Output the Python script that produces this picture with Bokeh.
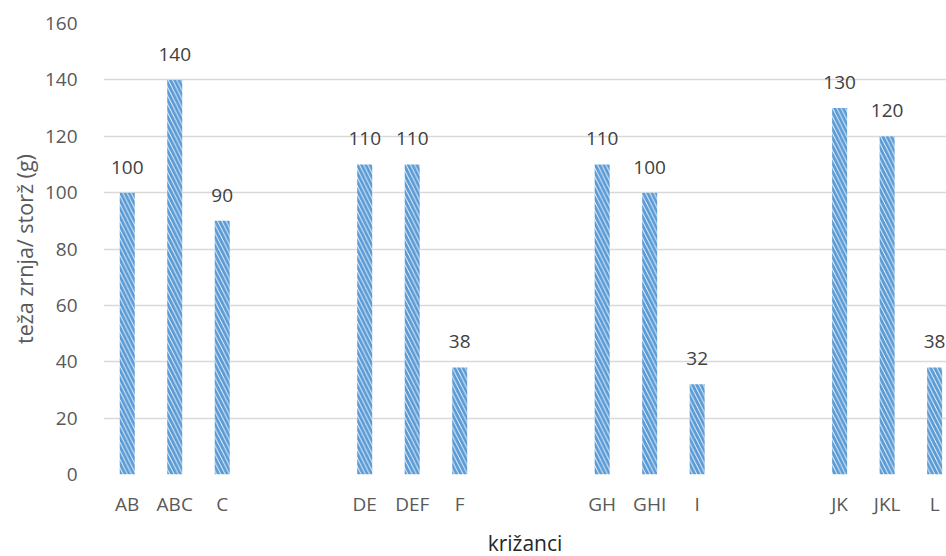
from bokeh.plotting import figure
from bokeh.models import Range1d, FixedTicker, ColumnDataSource, LabelSet
from bokeh.core.properties import value
from bokeh.embed import file_html
from bokeh.resources import INLINE

# hybrid groups, with two empty slots between each group
categories = ["AB", "ABC", "C", "", "", "DE", "DEF", "F", "", "", "GH", "GHI", "I", "", "", "JK", "JKL", "L"]
values = [100, 140, 90, None, None, 110, 110, 38, None, None, 110, 100, 32, None, None, 130, 120, 38]
y_ticks = [0, 20, 40, 60, 80, 100, 120, 140, 160]

xs = [i for i, v in enumerate(values) if v is not None]
ys = [v for v in values if v is not None]
labels = [str(v) for v in ys]
src = ColumnDataSource(dict(x=xs, top=ys, label=labels))

FONT = "Open Sans"
GREY = "#595959"

p = figure(frame_width=843, frame_height=451, output_backend="svg", toolbar_location=None,
           x_range=Range1d(-0.5, 17.25), y_range=Range1d(0, 160),
           min_border_left=103, min_border_right=0, min_border_top=23, min_border_bottom=0)
p.outline_line_color = None
p.background_fill_color = "white"
p.border_fill_color = "white"

p.vbar(x="x", top="top", width=0.316, bottom=0, source=src,
       fill_color="white", line_color=None,
       hatch_pattern="\\", hatch_color="#5B9BD5", hatch_scale=8.5, hatch_weight=3.0)

p.add_layout(LabelSet(x="x", y="top", text="label", source=src, y_offset=19,
                      text_align="center", text_baseline="bottom",
                      text_font=value(FONT), text_font_size="19px", text_color="#404040"))

# axes
p.xaxis.ticker = FixedTicker(ticks=list(range(len(categories))))
p.xaxis.major_label_overrides = {i: c for i, c in enumerate(categories)}
p.yaxis.ticker = FixedTicker(ticks=y_ticks)
for ax in (p.xaxis[0], p.yaxis[0]):
    ax.axis_line_color = None
    ax.major_tick_line_color = None
    ax.minor_tick_line_color = None
    ax.major_label_text_font = FONT
    ax.major_label_text_font_size = "19px"
    ax.major_label_text_color = GREY
    ax.axis_label_text_font = FONT
    ax.axis_label_text_font_style = "normal"
p.xaxis.major_label_standoff = 10
p.yaxis.major_label_standoff = 20

p.xaxis.axis_label = "križanci"
p.xaxis.axis_label_text_font_size = "21px"
p.xaxis.axis_label_text_color = "#262626"
p.xaxis.axis_label_standoff = 9

p.yaxis.axis_label = "teža zrnja/ storž (g)"
p.yaxis.axis_label_text_font_size = "21.5px"
p.yaxis.axis_label_text_color = GREY
p.yaxis.axis_label_standoff = 3

p.xgrid.grid_line_color = None
p.ygrid.grid_line_color = "#D9D9D9"
p.ygrid.grid_line_width = 1.3

open("out.html", "w").write(file_html(p, INLINE))
